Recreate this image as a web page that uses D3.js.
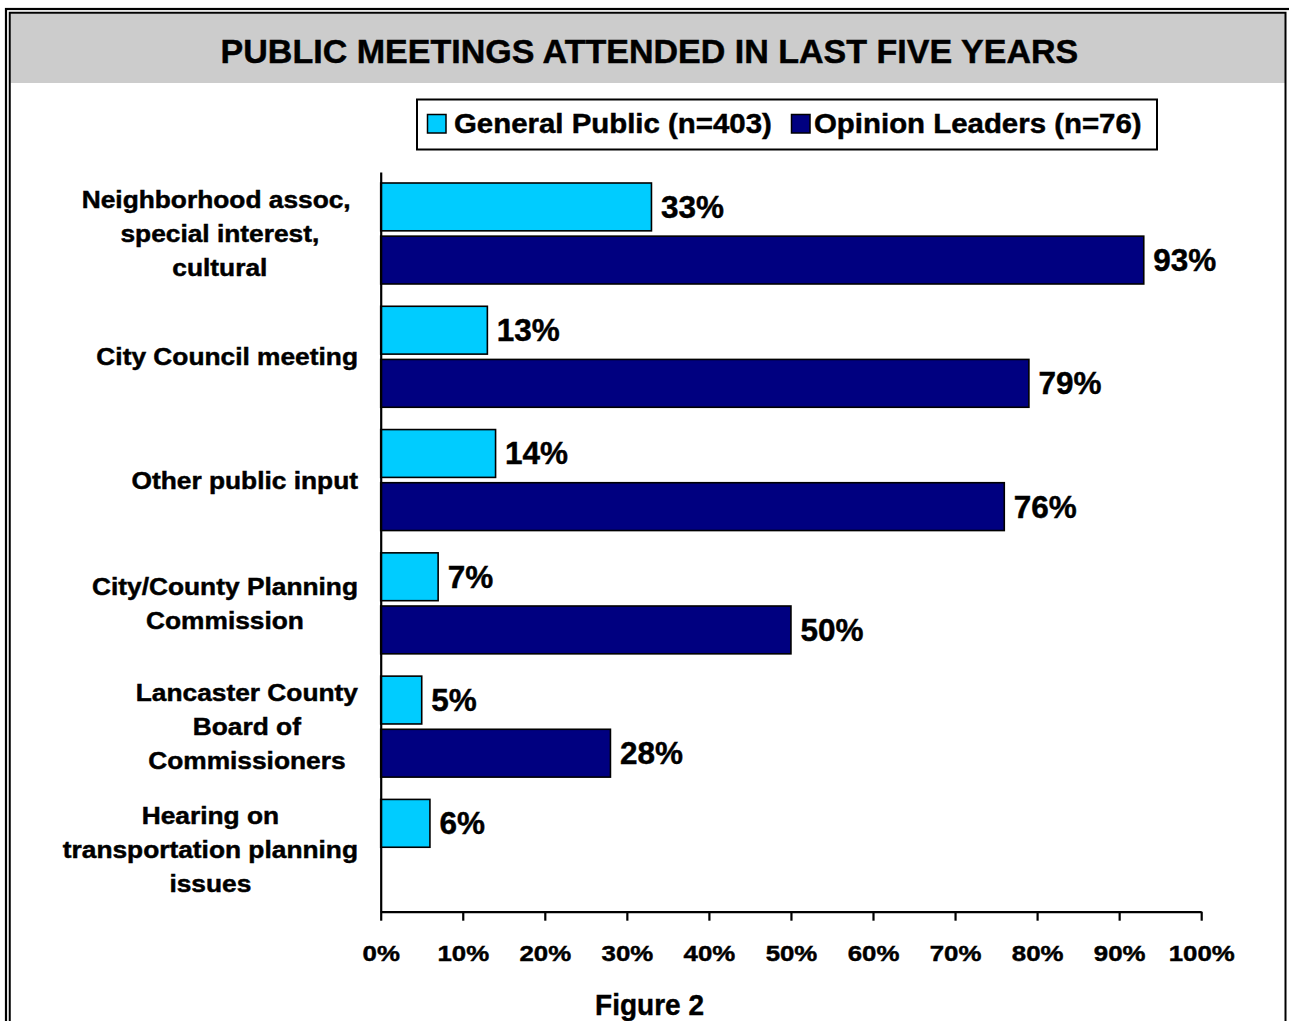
<!DOCTYPE html>
<html>
<head>
<meta charset="utf-8">
<script src="https://cdn.jsdelivr.net/npm/d3@7"></script>
<style>
  html, body { margin: 0; padding: 0; background: #ffffff; }
  svg { display: block; }
  text { font-family: "Liberation Sans", Arimo, Arial, sans-serif; font-weight: bold; fill: #000; stroke: #000; stroke-width: 0.45px; }
</style>
</head>
<body>
<svg id="chart" width="1289" height="1021"></svg>
<script>
// ---------------- data ----------------
const chartTitle = "PUBLIC MEETINGS ATTENDED IN LAST FIVE YEARS";
const figureCaption = "Figure 2";
const categories = [
  "Neighborhood assoc, \nspecial interest,\ncultural",
  "City Council meeting",
  "Other public input",
  "City/County Planning\nCommission",
  "Lancaster County\nBoard of\nCommissioners",
  "Hearing on\ntransportation planning\nissues"
];
const seriesNames = ["General Public (n=403)", "Opinion Leaders (n=76)"];
const generalPublic = [33, 13, 14, 7, 5, 6];
const opinionLeaders = [93, 79, 76, 50, 28, null];
const tickValues = [0, 10, 20, 30, 40, 50, 60, 70, 80, 90, 100];
const seriesColors = ["#00CCFF", "#000080"];

// ---------------- setup ----------------
const svg = d3.select("#chart");
const W = 1289, H = 1021;

function natural(str, size) {
  const t = svg.append("text").attr("font-size", size).style("white-space", "pre").text(str);
  const w = t.node().getComputedTextLength();
  t.remove();
  return w;
}
function stext(parent, x, y, str, size, sx, anchor) {
  return parent.append("text")
    .attr("transform", `translate(${x},${y}) scale(${sx},1)`)
    .attr("text-anchor", anchor)
    .attr("font-size", size)
    .style("white-space", "pre")
    .text(str);
}

// font sizes & horizontal stretch to match reference glyph proportions
const fs = { title: 32.5, legend: 27, tick: 22.3, cat: 23.3, value: 30.5, fig: 30 };
const sx = {
  title: 858 / natural(chartTitle, fs.title),
  legend: 318 / natural(seriesNames[0], fs.legend),
  tick: 66 / natural("100%", fs.tick),
  cat: 261.7 / natural("City Council meeting", fs.cat),
  value: 63 / natural("93%", fs.value),
  fig: 109 / natural(figureCaption, fs.fig)
};

// ---------------- frame ----------------
svg.append("rect").attr("x", 0).attr("y", 0).attr("width", W).attr("height", H).attr("fill", "#fff");
svg.append("rect").attr("x", 6).attr("y", 9).attr("width", 1300).attr("height", 1030)
  .attr("fill", "none").attr("stroke", "#000").attr("stroke-width", 2.2);
svg.append("rect").attr("x", 10.5).attr("y", 13.5).attr("width", 1274.5).attr("height", 69.5)
  .attr("fill", "#cccccc");
svg.append("rect").attr("x", 9.75).attr("y", 12.75).attr("width", 1275.75).attr("height", 1030)
  .attr("fill", "none").attr("stroke", "#000").attr("stroke-width", 2);

// title
stext(svg, 649.4, 62.7, chartTitle, fs.title, sx.title, "middle");

// ---------------- legend ----------------
const lg = svg.append("g");
lg.append("rect").attr("x", 417).attr("y", 99.5).attr("width", 740).attr("height", 50)
  .attr("fill", "#fff").attr("stroke", "#000").attr("stroke-width", 2);
const legendItems = [
  { sw: 427.5, tx: 454 },
  { sw: 791.5, tx: 814 }
];
seriesNames.forEach((name, i) => {
  lg.append("rect").attr("x", legendItems[i].sw).attr("y", 114.5).attr("width", 18.5).attr("height", 18.5)
    .attr("fill", seriesColors[i]).attr("stroke", "#000").attr("stroke-width", 1.5);
  stext(lg, legendItems[i].tx, 133, name, fs.legend, sx.legend, "start");
});

// ---------------- scales ----------------
const plot = { left: 380.7, right: 1201.2, top: 172, bottom: 911.7 };
const x = d3.scaleLinear().domain([0, 100]).range([plot.left, plot.right]);
const y0 = d3.scaleBand().domain(categories).range([plot.top, plot.bottom]).padding(0);
const y1 = d3.scaleBand().domain(seriesNames).range([11, y0.bandwidth() - 11.3]).paddingInner(0.1);

const seriesData = [generalPublic, opinionLeaders];

// ---------------- bars ----------------
const groups = svg.append("g").selectAll("g").data(categories).join("g")
  .attr("transform", d => `translate(0,${y0(d)})`);

groups.each(function(cat, ci) {
  const g = d3.select(this);
  seriesNames.forEach((s, si) => {
    const v = seriesData[si][ci];
    if (v == null) return;
    g.append("rect")
      .attr("x", x(0))
      .attr("y", y1(s))
      .attr("width", x(v) - x(0))
      .attr("height", y1.bandwidth())
      .attr("fill", seriesColors[si])
      .attr("stroke", "#000")
      .attr("stroke-width", 1.6);
    stext(g, x(v) + 9.5, y1(s) + y1.bandwidth() / 2 + 0.716 * fs.value / 2, v + "%", fs.value, sx.value, "start");
  });
});

// ---------------- axes ----------------
const xAxis = d3.axisBottom(x).tickValues(tickValues).tickFormat(d => d + "%").tickSize(9).tickSizeOuter(0);
const gx = svg.append("g").attr("transform", `translate(0,${plot.bottom})`).call(xAxis);
gx.attr("font-family", null).attr("font-size", null);
gx.select(".domain").attr("stroke", "#000").attr("stroke-width", 2.2);
gx.selectAll(".tick line").attr("stroke", "#000").attr("stroke-width", 2.2);
gx.selectAll(".tick text")
  .attr("y", null).attr("dy", null)
  .attr("fill", "#000")
  .attr("font-size", fs.tick)
  .attr("transform", `translate(0,48.8) scale(${sx.tick},1)`);

const yAxis = d3.axisLeft(y0).tickSize(0).tickSizeOuter(0).tickFormat("");
const gy = svg.append("g").attr("transform", `translate(${plot.left},0)`).call(yAxis);
gy.select(".domain").attr("stroke", "#000").attr("stroke-width", 2.2);
gy.selectAll(".tick").remove();

// category labels (multi-line, centred lines, block right-aligned)
const labelRight = 358;
const lineH = 34;
const capH = 0.716 * fs.cat;
categories.forEach(cat => {
  const lines = cat.split("\n");
  const maxW = d3.max(lines, l => natural(l, fs.cat)) * sx.cat;
  const cx = labelRight - maxW / 2;
  const cy = y0(cat) + y0.bandwidth() / 2;
  lines.forEach((l, i) => {
    const by = cy + (i - (lines.length - 1) / 2) * lineH + capH / 2;
    stext(svg, cx, by, l, fs.cat, sx.cat, "middle");
  });
});

// caption
stext(svg, 649.5, 1015, figureCaption, fs.fig, sx.fig, "middle");
</script>
</body>
</html>
